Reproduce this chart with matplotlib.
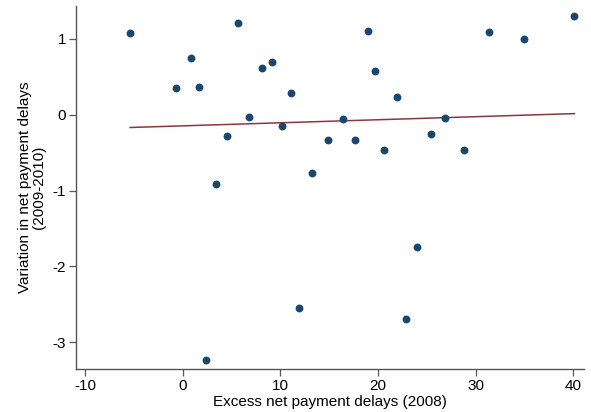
import numpy as np
import matplotlib
matplotlib.use("Agg")
import matplotlib.pyplot as plt

plt.rcParams['font.family'] = ['Liberation Sans', 'DejaVu Sans']

excess_2008 = [-5.41, -0.72, 0.79, 1.67, 2.36, 3.38, 4.54, 5.67, 6.80, 8.13,
               9.08, 10.11, 11.03, 11.89, 13.25, 14.82, 16.39, 17.59, 18.99, 19.67,
               20.63, 21.93, 22.85, 24.00, 25.41, 26.88, 28.79, 31.42, 35.00, 40.13]
variation_0910 = [1.07, 0.35, 0.75, 0.36, -3.23, -0.91, -0.28, 1.21, -0.03, 0.61,
                  0.69, -0.15, 0.28, -2.55, -0.77, -0.34, -0.06, -0.33, 1.10, 0.57,
                  -0.47, 0.23, -2.69, -1.75, -0.25, -0.04, -0.47, 1.09, 1.00, 1.30]
# fitted line as shown in the reference
fit_intercept = -0.148
fit_slope = 0.00402
x_ticks = [-10, 0, 10, 20, 30, 40]
y_ticks = [-3, -2, -1, 0, 1]

x = np.array(excess_2008)
y = np.array(variation_0910)

fig = plt.figure(figsize=(5.91, 4.12), dpi=100)
ax = fig.add_axes([0.1286, 0.1044, 0.988 - 0.1286, 0.9854 - 0.1044])

ax.scatter(x, y, s=32, color='#1a476f', zorder=3, linewidths=0)
xf = np.array([x.min(), x.max()])
ax.plot(xf, fit_intercept + fit_slope * xf, color='#90353b', lw=1.1, zorder=2)

ax.set_xlim(-10.96, 41.1)
ax.set_ylim(-3.35, 1.43)
ax.set_xticks(x_ticks)
ax.set_yticks(y_ticks)
ax.set_xticklabels([str(t) for t in x_ticks])
ax.set_yticklabels([str(t) for t in y_ticks])

for s in ['top', 'right']:
    ax.spines[s].set_visible(False)
for s in ['left', 'bottom']:
    ax.spines[s].set_color('#555555')
    ax.spines[s].set_linewidth(1.0)
ax.tick_params(axis='both', direction='out', length=5, width=0.9, color='#555555',
               labelsize=11, pad=2)

ax.set_xlabel('Excess net payment delays (2008)', fontsize=11, labelpad=2)
ax.set_ylabel('Variation in net payment delays\n(2009-2010)', fontsize=11,
              labelpad=5, linespacing=1.0)

fig.savefig('out.png', dpi=100)
